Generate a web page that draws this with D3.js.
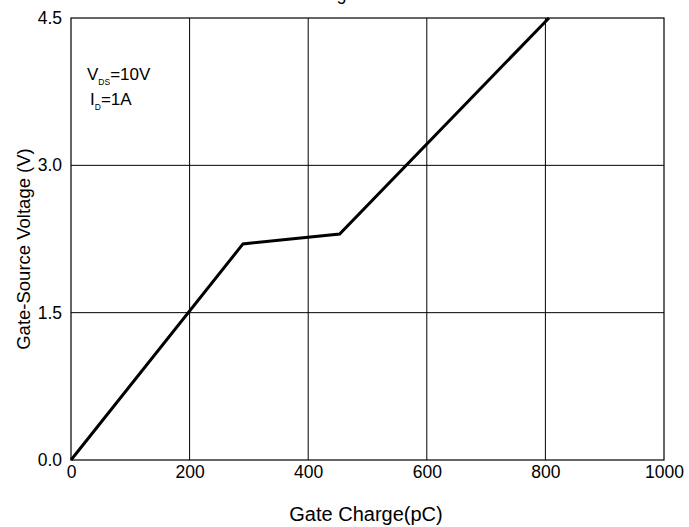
<!DOCTYPE html>
<html>
<head>
<meta charset="utf-8">
<script src="https://cdn.jsdelivr.net/npm/d3@7"></script>
<style>
  body { margin: 0; background: #fff; }
  svg { font-family: "Liberation Sans", Arial, sans-serif; }
</style>
</head>
<body>
<svg></svg>
<script>
const chargePC = [0, 290, 453, 806];
const gateV = [0, 2.2, 2.3, 4.5];
const xTicks = [0, 200, 400, 600, 800, 1000];
const yTicks = [0.0, 1.5, 3.0, 4.5];

const width = 689;
const height = 527;
const plotLeft = 71, plotRight = 664, plotTop = 18, plotBottom = 460;
const svg = d3.select("svg").attr("width", width).attr("height", height);

const xScale = d3.scaleLinear().domain([0, 1000]).range([plotLeft, plotRight]);
const yScale = d3.scaleLinear().domain([0, 4.5]).range([plotBottom, plotTop]);

// title, mostly off the top edge (as in the source image)
svg.append("text")
  .attr("x", 367).attr("y", 0)
  .attr("text-anchor", "middle")
  .attr("font-size", 18)
  .text("Gate Charge Characteristics");

// grid
svg.append("g").selectAll("line")
  .data(xTicks.slice(1, -1))
  .enter().append("line")
  .attr("x1", (d) => xScale(d)).attr("x2", (d) => xScale(d))
  .attr("y1", plotTop).attr("y2", plotBottom)
  .attr("stroke", "#000").attr("stroke-width", 1);

svg.append("g").selectAll("line")
  .data(yTicks.slice(1, -1))
  .enter().append("line")
  .attr("y1", (d) => yScale(d)).attr("y2", (d) => yScale(d))
  .attr("x1", plotLeft).attr("x2", plotRight)
  .attr("stroke", "#000").attr("stroke-width", 1);

svg.append("rect")
  .attr("x", plotLeft).attr("y", plotTop)
  .attr("width", plotRight - plotLeft).attr("height", plotBottom - plotTop)
  .attr("fill", "none").attr("stroke", "#000").attr("stroke-width", 1.2);

// axes
const xAxis = d3.axisBottom(xScale).tickValues(xTicks).tickSize(0).tickPadding(6)
  .tickFormat(d3.format("d"));
const yAxis = d3.axisLeft(yScale).tickValues(yTicks).tickSize(0).tickPadding(9)
  .tickFormat(d3.format(".1f"));

svg.append("g")
  .attr("transform", "translate(0," + plotBottom + ")")
  .call(xAxis)
  .call((g) => g.select(".domain").remove())
  .selectAll("text").attr("font-size", 17.5).attr("font-family", "Liberation Sans, Arial, sans-serif").attr("fill", "#000");

svg.append("g")
  .attr("transform", "translate(" + plotLeft + ",0)")
  .call(yAxis)
  .call((g) => g.select(".domain").remove())
  .selectAll("text").attr("font-size", 17.5).attr("font-family", "Liberation Sans, Arial, sans-serif").attr("fill", "#000");

// axis titles
svg.append("text")
  .attr("x", 366).attr("y", 521)
  .attr("text-anchor", "middle").attr("font-size", 20)
  .text("Gate Charge(pC)");

svg.append("text")
  .attr("transform", "translate(30,249) rotate(-90)")
  .attr("text-anchor", "middle").attr("font-size", 18.5)
  .text("Gate-Source Voltage (V)");

// curve
const points = chargePC.map((c, i) => [c, gateV[i]]);
svg.append("path")
  .datum(points)
  .attr("fill", "none").attr("stroke", "#000").attr("stroke-width", 3)
  .attr("d", d3.line().x((d) => xScale(d[0])).y((d) => yScale(d[1])));

// conditions
const note1 = svg.append("text").attr("x", 87).attr("y", 80).attr("font-size", 17);
note1.append("tspan").text("V");
note1.append("tspan").attr("font-size", 8.5).attr("dy", 5).text("DS");
note1.append("tspan").attr("dy", -5).text("=10V");

const note2 = svg.append("text").attr("x", 90).attr("y", 105).attr("font-size", 17);
note2.append("tspan").text("I");
note2.append("tspan").attr("font-size", 8.5).attr("dy", 5).text("D");
note2.append("tspan").attr("dy", -5).text("=1A");
</script>
</body>
</html>
